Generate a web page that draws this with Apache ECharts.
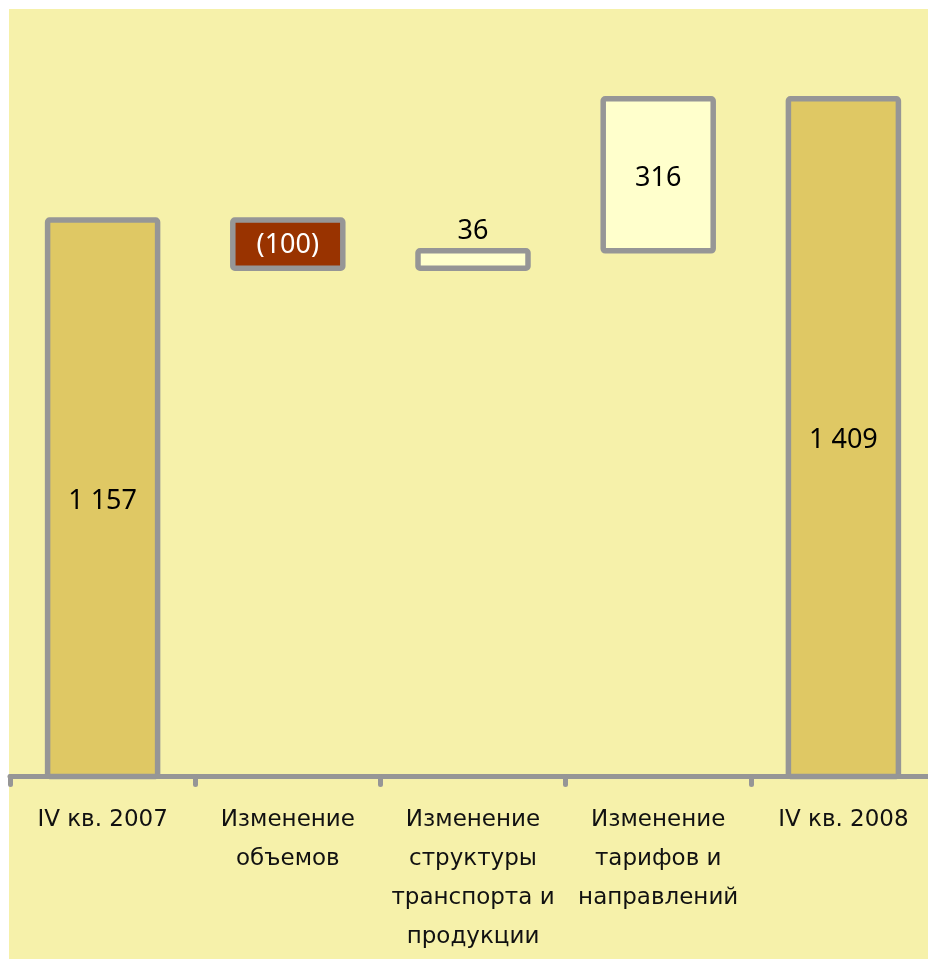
<!DOCTYPE html>
<html>
<head>
<meta charset="utf-8">
<script src="https://cdn.jsdelivr.net/npm/echarts@6/dist/echarts.min.js"></script>
<style>
  html, body { margin: 0; padding: 0; background: #ffffff; overflow: hidden; }
  #c { width: 936px; height: 959px; }
</style>
</head>
<body>
<div id="c"></div>
<script>
// ---- data ----
var categories = [
  'IV кв. 2007',
  'Изменение\nобъемов',
  'Изменение\nструктуры\nтранспорта и\nпродукции',
  'Изменение\nтарифов и\nнаправлений',
  'IV кв. 2008'
];
var values = [1157, -100, 36, 316, 1409];
var isTotal = [true, false, false, false, true];

// ---- styles ----
var BG = '#f6f1aa';
var GREY = '#969696';
var TOTAL = '#dfc864';
var NEG = '#993300';
var POS = '#ffffcc';
var LABEL_FONT = '"Noto Sans", "Open Sans", sans-serif';
var AXIS_FONT = '"DejaVu Sans", sans-serif';
var BAR_W = 110;

function fmt(v) {
  var a = Math.abs(v).toString().replace(/\B(?=(\d{3})+(?!\d))/g, ' ');
  return v < 0 ? '(' + a + ')' : a;
}

// waterfall items: [categoryIndex, bottom, top, rawValue]
var items = [];
var running = 0;
for (var j = 0; j < values.length; j++) {
  var val = values[j], lo, hi;
  if (isTotal[j]) { lo = 0; hi = val; running = val; }
  else if (val < 0) { hi = running; running += val; lo = running; }
  else { lo = running; running += val; hi = running; }
  items.push([j, lo, hi, val]);
}

function renderItem(params, api) {
  var i = api.value(0);
  var raw = api.value(3);
  var p0 = api.coord([i, api.value(1)]);
  var p1 = api.coord([i, api.value(2)]);
  var total = isTotal[i];
  var fill = total ? TOTAL : (raw < 0 ? NEG : POS);
  var small = !total && raw >= 0 && raw < 100;
  return {
    type: 'rect',
    shape: { x: p0[0] - BAR_W / 2, y: p1[1], width: BAR_W, height: p0[1] - p1[1], r: 2 },
    style: { fill: fill, stroke: GREY, lineWidth: 5.5 },
    textContent: {
      type: 'text',
      style: {
        text: fmt(raw),
        fill: raw < 0 ? '#ffffff' : '#000000',
        fontFamily: LABEL_FONT,
        fontSize: 27
      }
    },
    textConfig: small
      ? { position: 'top', distance: 3 }
      : { position: 'inside', offset: [0, raw > 0 ? 3 : 1] }
  };
}

var chart = echarts.init(document.getElementById('c'), null, { renderer: 'canvas' });
chart.setOption({
  backgroundColor: '#ffffff',
  animation: false,
  graphic: [{
    type: 'rect',
    z: -100,
    silent: true,
    shape: { x: 9, y: 9, width: 940, height: 960 },
    style: { fill: BG }
  }],
  grid: { left: 10, right: 0, top: 7, bottom: 182.5, containLabel: false },
  xAxis: {
    type: 'category',
    data: categories,
    boundaryGap: true,
    z: 5,
    axisLine: { show: true, lineStyle: { color: GREY, width: 5, cap: 'round' } },
    axisTick: { show: true, length: 8, lineStyle: { color: GREY, width: 5, cap: 'round' } },
    axisLabel: {
      interval: 0,
      margin: 24,
      fontFamily: AXIS_FONT,
      fontSize: 23,
      lineHeight: 39,
      color: '#111111'
    }
  },
  yAxis: {
    type: 'value',
    min: 0,
    max: 1600,
    show: false,
    splitLine: { show: false }
  },
  series: [{
    type: 'custom',
    z: 2,
    data: items,
    encode: { x: 0, y: [1, 2] },
    renderItem: renderItem
  }]
});
</script>
</body>
</html>
